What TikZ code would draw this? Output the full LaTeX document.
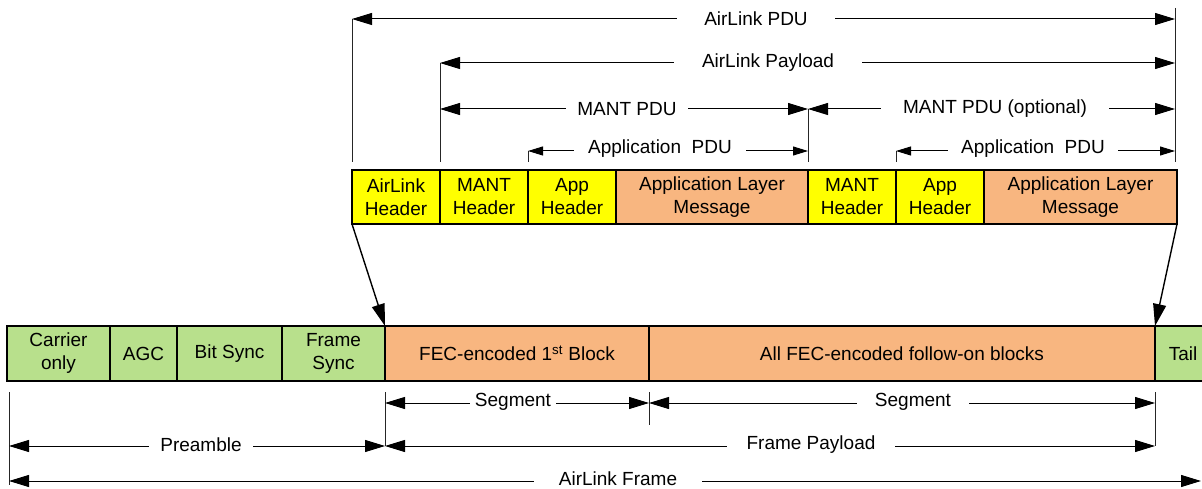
\documentclass[tikz,border=0pt]{standalone}
\usepackage{fontspec}
\setmainfont{Liberation Sans}
\usetikzlibrary{positioning, arrows.meta}
\definecolor{hdryellow}{RGB}{255,255,0}
\definecolor{msgorange}{RGB}{248,182,128}
\definecolor{syncgreen}{RGB}{184,224,140}
\tikzset{
  dimtip/.tip={Triangle[length=20pt,width=12pt]},
  apptip/.tip={Triangle[length=15pt,width=9pt]},
  bigtip/.tip={Triangle[length=22pt,width=13pt]}
}

\begin{document}
\begin{tikzpicture}[x=1pt,y=-1pt,font=\fontsize{19}{23}\selectfont,
    field/.style={draw,line width=1.2pt,outer sep=0pt,inner sep=0pt,minimum height=54pt,align=center},
    hdr/.style={field,fill=hdryellow,minimum width=88pt},
    msg/.style={field,fill=msgorange},
    sync/.style={field,fill=syncgreen,minimum height=55pt},
    dim/.style={dimtip-dimtip,line width=1pt},
    smalldim/.style={apptip-apptip,line width=1pt},
    ext/.style={line width=1pt,black!85},
    lbl/.style={fill=white,inner xsep=15pt,inner ysep=1pt},
    zoomarrow/.style={-bigtip,line width=1.4pt}]

    \useasboundingbox (0,0) rectangle (1202,489);

    % AirLink PDU fields
    \node[hdr] (alh) at (396,197) {AirLink\\Header};
    \node[hdr] (mh1) [right=0pt of alh] {MANT\\Header};
    \node[hdr] (ah1) [right=0pt of mh1] {App\\Header};
    \node[msg,minimum width=192pt] (am1) [right=0pt of ah1] {Application Layer\\Message};
    \node[hdr] (mh2) [right=0pt of am1] {MANT\\Header};
    \node[hdr] (ah2) [right=0pt of mh2] {App\\Header};
    \node[msg,minimum width=193pt] (am2) [right=0pt of ah2] {Application Layer\\Message};

    % AirLink frame fields
    \node[sync,minimum width=103pt] (car) at (58.5,353.5) {Carrier\\only};
    \node[sync,minimum width=67pt] (agc) [right=0pt of car] {AGC};
    \node[sync,minimum width=105pt] (bit) [right=0pt of agc] {Bit Sync};
    \node[sync,minimum width=103pt] (fsy) [right=0pt of bit] {Frame\\Sync};
    \node[msg,minimum height=55pt,minimum width=264pt] (fec1) [right=0pt of fsy] {FEC-encoded 1\textsuperscript{st} Block};
    \node[msg,minimum height=55pt,minimum width=506pt] (fecn) [right=0pt of fec1] {All FEC-encoded follow-on blocks};
    \node[sync,minimum width=56pt] (tail) [right=0pt of fecn] {Tail};

    \draw[zoomarrow] (alh.south west) -- (fec1.north west);
    \draw[zoomarrow] (am2.south east) -- (fecn.north east);

    % extents above the PDU
    \coordinate (tA) at (352,19);
    \coordinate (tB) at (440,63);
    \coordinate (tC) at (528,151);
    \coordinate (tD) at (808,109);
    \coordinate (tE) at (896,151);
    \coordinate (tF) at (1175,8);

    \draw[ext] (tA) -- (tA |- 0,162);
    \draw[ext] (tB) -- (tB |- 0,162);
    \draw[ext] (tC) -- (tC |- 0,162);
    \draw[ext] (tD) -- (tD |- 0,162);
    \draw[ext] (tE) -- (tE |- 0,162);
    \draw[ext] (tF) -- (tF |- 0,162);

    \draw[dim] (tA) -- (tF |- tA);
    \draw[dim] (tB) -- (tF |- tB);
    \draw[dim] (tB |- tD) -- (tD);
    \draw[dim] (tD) -- (tF |- tD);
    \draw[smalldim] (tC) -- (tD |- tC);
    \draw[smalldim] (tE) -- (tF |- tE);

    \node[lbl,inner xsep=27pt] (pdu) at (756,19) {AirLink PDU};
    \node[lbl,inner xsep=28pt] (pay) at (768,63) {AirLink Payload};
    \node[lbl,inner xsep=11pt] (mant1) at (627,109) {MANT PDU};
    \node[lbl,inner xsep=22pt] (mant2) at (995,109) {MANT PDU (optional)};
    \node[lbl,inner xsep=14pt] (app1) at (660,149) {Application\ \ PDU};
    \node[lbl,inner xsep=13pt] (app2) at (1033,149) {Application\ \ PDU};

    % extents below the frame
    \coordinate (bA) at (9,392);
    \coordinate (bB) at (385,392);
    \coordinate (bC) at (649,392);
    \coordinate (bD) at (1155,392);
    \coordinate (bE) at (1201,481);

    \draw[ext] (bA) -- (bA |- 0,485);
    \draw[ext] (bB) -- (bB |- 0,446);
    \draw[ext] (bC) -- (bC |- 0,425);
    \draw[ext] (bD) -- (bD |- 0,446);

    \draw[dim] (bB |- 0,403) -- (bC |- 0,403);
    \draw[dim] (bC |- 0,403) -- (bD |- 0,403);
    \draw[dim] (bA |- 0,446) -- (bB |- 0,446);
    \draw[dim] (bB |- 0,446) -- (bD |- 0,446);
    \draw[dim] (bA |- bE) -- (bE);

    \node[lbl,inner xsep=5pt] (seg1) at (513,402) {Segment};
    \node[lbl,inner xsep=18pt] (seg2) at (913,402) {Segment};
    \node[lbl,inner xsep=11pt] (pre) at (201,445) {Preamble};
    \node[lbl,inner xsep=20pt] (fpay) at (811,445) {Frame Payload};
    \node[lbl,inner xsep=25pt,inner ysep=0pt] (frame) at (618,479) {AirLink Frame};
\end{tikzpicture}
\end{document}
